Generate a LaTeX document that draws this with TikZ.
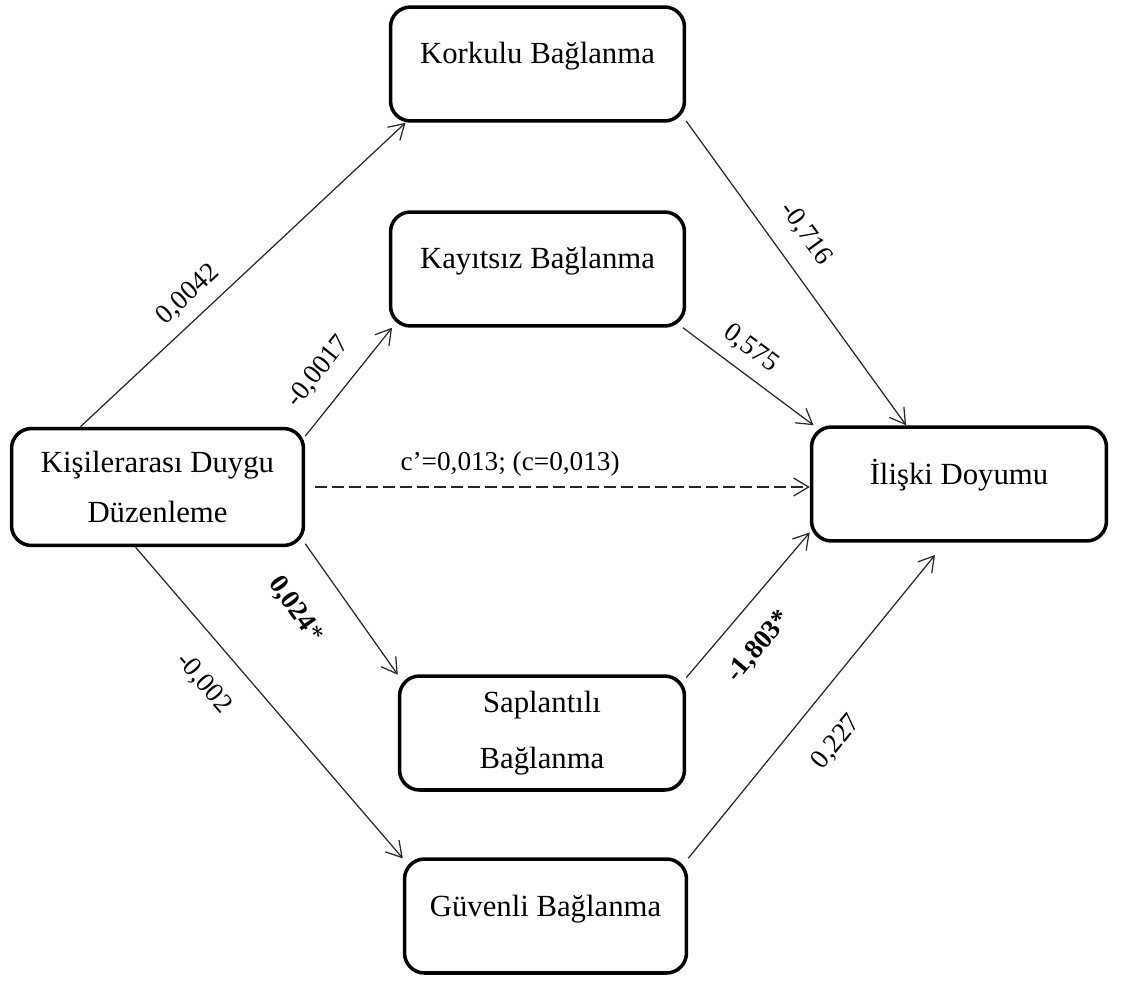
\documentclass[tikz,border=0pt]{standalone}
\usepackage{fontspec}
\setmainfont{Liberation Serif}
\usetikzlibrary{arrows.meta}

\begin{document}
\begin{tikzpicture}[x=0.02cm, y=-0.02cm,
	box/.style={draw, line width=2pt, rounded corners=0.4cm, align=center,
		font=\fontsize{17.5}{28}\selectfont, minimum width=5.88cm, minimum height=2.28cm},
	single/.style={text height=0.42cm, text depth=0.42cm},
	arr/.style={-{Straight Barb[length=3mm,width=3.6mm]}, line width=0.7pt, draw=black!85},
	lbl/.style={font=\fontsize{15.5}{18}\selectfont, sloped, inner sep=2pt}]
	\useasboundingbox (0,0) rectangle (1122,983);

	% Boxes
	%Predictor
	\node[box, minimum width=5.84cm, minimum height=2.34cm] (kdd) at (157.5,487) {Kişilerarası Duygu\\Düzenleme};
	%Mediators
	\node[box, single] (kor) at (537.5,64) {Korkulu Bağlanma};
	\node[box, single] (kay) at (537.5,269) {Kayıtsız Bağlanma};
	\node[box, minimum width=5.7cm] (sap) at (542,733) {Saplantılı\\[4pt]Bağlanma};
	\node[box, single, minimum width=5.64cm] (guv) at (545.5,916) {Güvenli Bağlanma};
	%Outcome
	\node[box, single, minimum width=5.9cm] (ili) at (959,484) {İlişki Doyumu};
	\coordinate (ili-in) at (935,555);

	% Paths a
	\draw[arr] (kdd.142) -- node[lbl, pos=0.38, above=4.3pt] {0,0042} (kor.-156.5);
	\draw[arr] (kdd.19) -- node[lbl, pos=0.42, above=8.4pt] {-0,0017} (kay.-158);
	\draw[arr] (kdd.-21.5) -- node[lbl, pos=0.30, below=17.5pt] {\textbf{0,024}*} (sap.158.6);
	\draw[arr] (kdd.-110.6) -- node[lbl, pos=0.36, below=12.2pt] {-0,002} (guv.158.6);

	% Paths b
	\draw[arr] (kor.-21.2) -- node[lbl, pos=0.43, above=9pt] {-0,716} (ili.132);
	\draw[arr] (kay.-22.8) -- node[lbl, pos=0.41, above=4.9pt] {0,575} (ili.158);
	\draw[arr] (sap.21.8) -- node[lbl, pos=0.37, below=11.5pt] {\textbf{-1,803*}} (ili.-162);
	\draw[arr] (guv.22.9) -- node[lbl, pos=0.47, below=15pt] {0,227} (ili-in);

	% Direct path c'
	\draw[arr, dash pattern=on 2.4mm off 1mm, shorten <=0.2cm] (kdd.east) -- node[lbl, pos=0.406, above=4pt] {c’=0,013;\ (c=0,013)} (kdd.east -| ili.west);

\end{tikzpicture}
\end{document}
